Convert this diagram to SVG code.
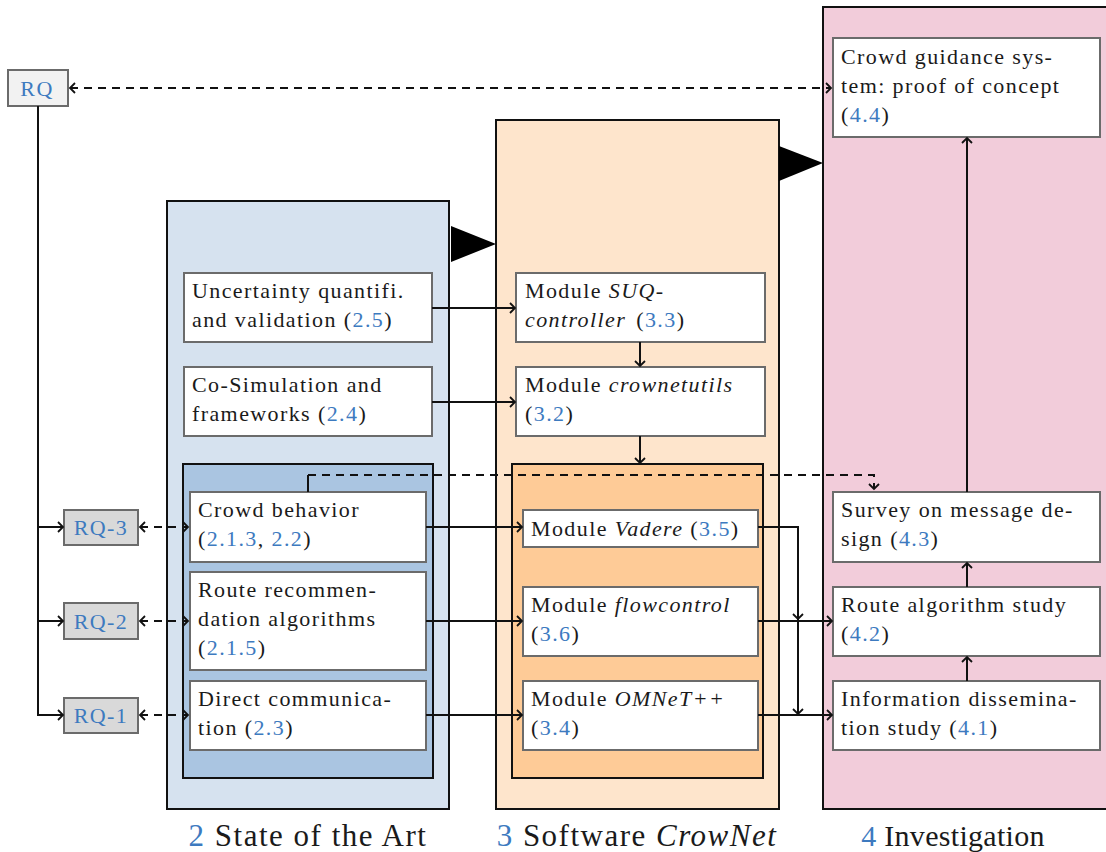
<svg xmlns="http://www.w3.org/2000/svg" width="1106" height="852" viewBox="0 0 1106 852">
<defs>
<style>
text{font-family:"Liberation Serif","Times New Roman",serif;font-size:22px;letter-spacing:1.4px;fill:#1a1a1a}
.n{fill:#3d7abf}
.i{font-style:italic}
.box{fill:#ffffff;stroke:#6b6b6b;stroke-width:2}
.col{stroke:#111;stroke-width:2}
.c{fill:none;stroke:#111;stroke-width:2}
.d{fill:none;stroke:#111;stroke-width:2;stroke-dasharray:8 6}
.lbl{font-size:31px;letter-spacing:1.5px}
</style>
<marker id="ah" viewBox="-6 -6 8 12" markerWidth="8" markerHeight="12" refX="0" refY="0" orient="auto-start-reverse" markerUnits="userSpaceOnUse">
<path d="M-5,-5 L0,0 L-5,5" fill="none" stroke="#111" stroke-width="1.8"/>
</marker>
</defs>

<g id="col-sota">
<rect class="col" x="167" y="201" width="282" height="608" fill="#d6e2ef"/>
<rect class="col" x="183" y="464" width="250" height="314" fill="#aac5e1"/>
<polygon points="451,226 451,262 496,244" fill="#000"/>
<text class="lbl" x="308" y="846" text-anchor="middle"><tspan class="n">2</tspan> State of the Art</text>
</g>
<g id="col-software">
<rect class="col" x="496" y="120" width="283" height="689" fill="#fee5cc"/>
<rect class="col" x="512" y="464" width="251" height="314" fill="#fecb97"/>
<polygon points="779,146 779,181 823,163" fill="#000"/>
<text class="lbl" x="637" y="846" text-anchor="middle"><tspan class="n">3</tspan> Software <tspan class="i">CrowNet</tspan></text>
</g>
<g id="col-investigation">
<rect class="col" x="823" y="7" width="290" height="802" fill="#f2ccda"/>
<text class="lbl" x="953" y="846" text-anchor="middle" style="font-size:30px;letter-spacing:0.3px"><tspan class="n">4</tspan> Investigation</text>
</g>

<g id="rq">
<rect x="8" y="70" width="60" height="36" fill="#f2f2f2" stroke="#6b6b6b" stroke-width="2"/>
<text class="n" x="37" y="96" text-anchor="middle">RQ</text>
</g>
<g id="rq3">
<rect x="64" y="510" width="74" height="35" fill="#d9d9d9" stroke="#6b6b6b" stroke-width="2"/>
<text class="n" x="101" y="535" text-anchor="middle">RQ-3</text>
</g>
<g id="rq2">
<rect x="64" y="603" width="74" height="36" fill="#d9d9d9" stroke="#6b6b6b" stroke-width="2"/>
<text class="n" x="101" y="629" text-anchor="middle">RQ-2</text>
</g>
<g id="rq1">
<rect x="64" y="698" width="74" height="35" fill="#d9d9d9" stroke="#6b6b6b" stroke-width="2"/>
<text class="n" x="101" y="723" text-anchor="middle">RQ-1</text>
</g>

<g id="uq">
<rect class="box" x="184" y="273" width="248" height="69"/>
<text x="192" y="298">Uncertainty quantifi.</text>
<text x="192" y="327">and validation (<tspan class="n">2.5</tspan>)</text>
</g>
<g id="cosim">
<rect class="box" x="184" y="367" width="248" height="69"/>
<text x="192" y="392">Co-Simulation and</text>
<text x="192" y="421">frameworks (<tspan class="n">2.4</tspan>)</text>
</g>
<g id="crowd">
<rect class="box" x="190" y="492" width="236" height="70"/>
<text x="198" y="517">Crowd behavior</text>
<text x="198" y="546">(<tspan class="n">2.1.3</tspan>, <tspan class="n">2.2</tspan>)</text>
</g>
<g id="route">
<rect class="box" x="190" y="572" width="236" height="98"/>
<text x="198" y="597">Route recommen-</text>
<text x="198" y="626">dation algorithms</text>
<text x="198" y="655">(<tspan class="n">2.1.5</tspan>)</text>
</g>
<g id="direct">
<rect class="box" x="190" y="681" width="236" height="69"/>
<text x="198" y="706">Direct communica-</text>
<text x="198" y="735">tion (<tspan class="n">2.3</tspan>)</text>
</g>

<g id="suq">
<rect class="box" x="516" y="273" width="249" height="69"/>
<text x="525" y="298">Module <tspan class="i">SUQ-</tspan></text>
<text x="525" y="327"><tspan class="i">controller</tspan><tspan dx="10">(</tspan><tspan class="n">3.3</tspan>)</text>
</g>
<g id="crownetutils">
<rect class="box" x="516" y="367" width="249" height="69"/>
<text x="525" y="392">Module <tspan class="i">crownetutils</tspan></text>
<text x="525" y="421">(<tspan class="n">3.2</tspan>)</text>
</g>
<g id="vadere">
<rect class="box" x="523" y="510" width="235" height="37"/>
<text x="531" y="536">Module <tspan class="i">Vadere</tspan> (<tspan class="n">3.5</tspan>)</text>
</g>
<g id="flowcontrol">
<rect class="box" x="523" y="587" width="235" height="69"/>
<text x="531" y="612">Module <tspan class="i">flowcontrol</tspan></text>
<text x="531" y="641">(<tspan class="n">3.6</tspan>)</text>
</g>
<g id="omnet">
<rect class="box" x="523" y="681" width="235" height="69"/>
<text x="531" y="706">Module <tspan class="i">OMNeT++</tspan></text>
<text x="531" y="735">(<tspan class="n">3.4</tspan>)</text>
</g>

<g id="guidance">
<rect class="box" x="833" y="38" width="267" height="99"/>
<text x="841" y="64">Crowd guidance sys-</text>
<text x="841" y="93">tem: proof of concept</text>
<text x="841" y="122">(<tspan class="n">4.4</tspan>)</text>
</g>
<g id="survey">
<rect class="box" x="833" y="492" width="267" height="70"/>
<text x="841" y="517">Survey on message de-</text>
<text x="841" y="546">sign (<tspan class="n">4.3</tspan>)</text>
</g>
<g id="routestudy">
<rect class="box" x="833" y="587" width="267" height="69"/>
<text x="841" y="612">Route algorithm study</text>
<text x="841" y="641">(<tspan class="n">4.2</tspan>)</text>
</g>
<g id="info">
<rect class="box" x="833" y="681" width="267" height="69"/>
<text x="841" y="706">Information dissemina-</text>
<text x="841" y="735">tion study (<tspan class="n">4.1</tspan>)</text>
</g>

<g id="connectors">
<path class="d" d="M70,88 H831" marker-start="url(#ah)" marker-end="url(#ah)"/>
<path class="c" d="M38,106 V715"/>
<path class="c" d="M37,527 H63" marker-end="url(#ah)"/>
<path class="c" d="M37,621 H63" marker-end="url(#ah)"/>
<path class="c" d="M37,715 H63" marker-end="url(#ah)"/>
<path class="d" d="M140,527 H188" marker-start="url(#ah)" marker-end="url(#ah)"/>
<path class="d" d="M140,621 H188" marker-start="url(#ah)" marker-end="url(#ah)"/>
<path class="d" d="M140,715 H188" marker-start="url(#ah)" marker-end="url(#ah)"/>
<path class="c" d="M432,308 H515" marker-end="url(#ah)"/>
<path class="c" d="M432,402 H515" marker-end="url(#ah)"/>
<path class="c" d="M640,342 V366" marker-end="url(#ah)"/>
<path class="c" d="M640,436 V463" marker-end="url(#ah)"/>
<path class="c" d="M426,527 H522" marker-end="url(#ah)"/>
<path class="c" d="M426,621 H522" marker-end="url(#ah)"/>
<path class="c" d="M426,715 H522" marker-end="url(#ah)"/>
<path class="c" d="M758,527 H798 V619" marker-end="url(#ah)"/>
<path class="c" d="M798,619 V714" marker-end="url(#ah)"/>
<path class="c" d="M758,621 H832" marker-end="url(#ah)"/>
<path class="c" d="M758,715 H832" marker-end="url(#ah)"/>
<path class="c" d="M967,681 V657" marker-end="url(#ah)"/>
<path class="c" d="M967,587 V563" marker-end="url(#ah)"/>
<path class="c" d="M967,492 V138" marker-end="url(#ah)"/>
<path class="c" d="M308,492 V475"/>
<path class="d" d="M308,475 H874 V489" marker-end="url(#ah)"/>
</g>
</svg>
